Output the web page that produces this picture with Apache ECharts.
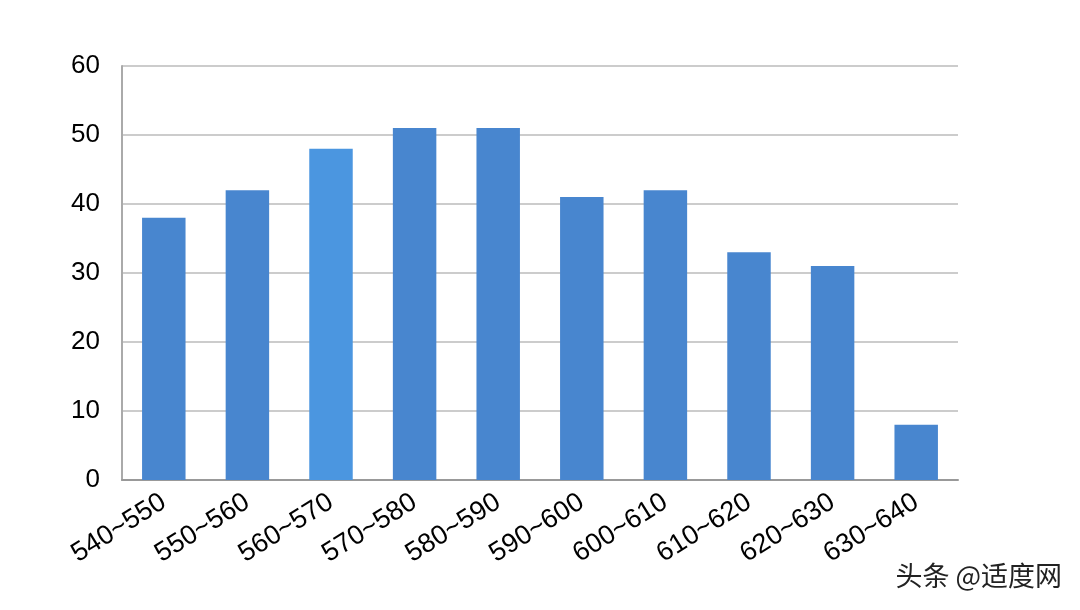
<!DOCTYPE html>
<html><head><meta charset="utf-8">
<script src="https://cdn.jsdelivr.net/npm/echarts@6/dist/echarts.min.js"></script>
<style>html,body{margin:0;padding:0;background:#fff}#c{width:1080px;height:610px}</style>
</head><body><div id="c"></div>
<script>
const categories = ['540~550','550~560','560~570','570~580','580~590','590~600','600~610','610~620','620~630','630~640'];
const values = [38, 42, 48, 51, 51, 41, 42, 33, 31, 8];
const yTicks = [0, 10, 20, 30, 40, 50, 60];
const highlightIndex = 2;

const chart = echarts.init(document.getElementById('c'));
chart.setOption({
  backgroundColor: '#fff',
  animation: false,
  grid: { left: 122, right: 122, top: 66, bottom: 130 },
  xAxis: {
    type: 'category',
    data: categories,
    axisLine: { lineStyle: { color: '#999', width: 2 } },
    axisTick: { show: false },
    axisLabel: { rotate: 32, color: '#000', fontSize: 27, fontFamily: 'Liberation Sans, Arial', margin: 20, interval: 0 }
  },
  yAxis: {
    type: 'value',
    min: yTicks[0], max: yTicks[yTicks.length - 1], interval: 10,
    axisLine: { show: true, lineStyle: { color: '#aaa', width: 2 } },
    axisTick: { show: false },
    splitLine: { lineStyle: { color: '#ccc', width: 2 } },
    axisLabel: { color: '#000', fontSize: 26, fontFamily: 'Liberation Sans, Arial', margin: 22 }
  },
  series: [{
    type: 'bar',
    barWidth: '52%',
    data: values.map((v, i) => ({ value: v, itemStyle: { color: i === highlightIndex ? '#4b96e0' : '#4886cf' } }))
  }],
  graphic: [{
    type: 'text', right: 18, top: 562,
    style: { text: '头条 @适度网', fontSize: 27, fill: '#222', fontFamily: 'Noto Sans CJK SC',
      textShadowColor: '#fff', textShadowBlur: 2, textShadowOffsetX: 1, textShadowOffsetY: 1 }
  }]
});
</script></body></html>
